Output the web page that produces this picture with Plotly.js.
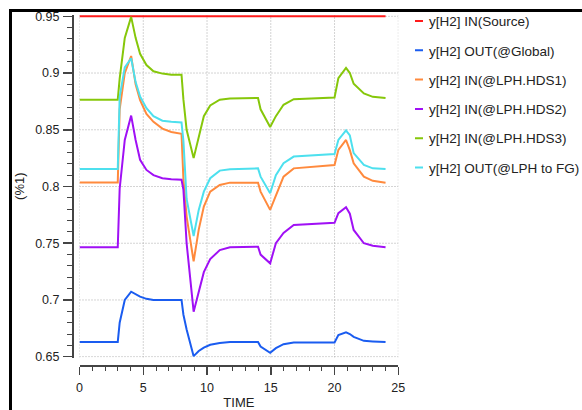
<!DOCTYPE html>
<html>
<head>
<meta charset="utf-8">
<script src="https://cdn.plot.ly/plotly-3.0.1.min.js"></script>
<style>html,body{margin:0;padding:0;background:#fff;}#chart{width:582px;height:410px;}</style>
</head>
<body>
<div id="chart"></div>
<script>
// Time axis (shared sample points)
const time = [0, 3, 3.15, 3.55, 4.05, 4.4, 4.75, 5.25, 5.8, 6.5, 7.2, 8.0, 8.15, 8.4, 8.95, 9.35, 9.75, 10.25, 11.0, 11.8, 14.0, 14.2, 14.95, 15.4, 16.0, 16.8, 20.0, 20.3, 20.9, 21.2, 21.5, 22.3, 23.0, 24.0];

// Series names
const seriesNames = ["y[H2] IN(Source)", "y[H2] OUT(@Global)", "y[H2] IN(@LPH.HDS1)", "y[H2] IN(@LPH.HDS2)", "y[H2] IN(@LPH.HDS3)", "y[H2] OUT(@LPH to FG)"];

const inSource = [0.95, 0.95, 0.95, 0.95, 0.95, 0.95, 0.95, 0.95, 0.95, 0.95, 0.95, 0.95, 0.95, 0.95, 0.95, 0.95, 0.95, 0.95, 0.95, 0.95, 0.95, 0.95, 0.95, 0.95, 0.95, 0.95, 0.95, 0.95, 0.95, 0.95, 0.95, 0.95, 0.95, 0.95];

const outGlobal = [0.663, 0.663, 0.680, 0.700, 0.7073, 0.705, 0.703, 0.701, 0.700, 0.700, 0.700, 0.700, 0.687, 0.674, 0.6505, 0.655, 0.658, 0.6605, 0.662, 0.663, 0.663, 0.659, 0.6535, 0.6575, 0.661, 0.6625, 0.6625, 0.669, 0.6715, 0.670, 0.6675, 0.664, 0.6635, 0.663];

const inHDS1 = [0.8035, 0.8035, 0.868, 0.900, 0.915, 0.890, 0.876, 0.864, 0.857, 0.851, 0.848, 0.8465, 0.806, 0.7735, 0.734, 0.762, 0.7823, 0.7955, 0.8014, 0.8034, 0.8034, 0.7955, 0.7794, 0.792, 0.8087, 0.816, 0.819, 0.8323, 0.841, 0.832, 0.8205, 0.8087, 0.805, 0.8034];

const inHDS2 = [0.7465, 0.7465, 0.798, 0.841, 0.8625, 0.841, 0.8235, 0.8146, 0.810, 0.8073, 0.8065, 0.806, 0.797, 0.750, 0.6897, 0.7085, 0.7245, 0.736, 0.744, 0.7465, 0.747, 0.740, 0.7323, 0.750, 0.759, 0.766, 0.768, 0.7765, 0.7817, 0.776, 0.7617, 0.750, 0.7478, 0.7465];

const inHDS3 = [0.8765, 0.8765, 0.895, 0.931, 0.9495, 0.931, 0.917, 0.907, 0.9015, 0.8995, 0.8985, 0.8985, 0.8765, 0.850, 0.825, 0.845, 0.862, 0.8715, 0.8765, 0.8775, 0.878, 0.868, 0.8525, 0.862, 0.872, 0.877, 0.8785, 0.8955, 0.9045, 0.900, 0.8905, 0.882, 0.879, 0.878];

const outLPHtoFG = [0.8155, 0.8155, 0.879, 0.905, 0.913, 0.892, 0.8794, 0.869, 0.862, 0.858, 0.857, 0.8565, 0.840, 0.789, 0.7564, 0.7794, 0.7955, 0.8073, 0.814, 0.8153, 0.816, 0.8087, 0.794, 0.810, 0.8205, 0.8264, 0.8287, 0.841, 0.8495, 0.845, 0.8294, 0.819, 0.816, 0.8155];

const xTicks = [0, 5, 10, 15, 20, 25];
const yTicks = [0.65, 0.7, 0.75, 0.8, 0.85, 0.9, 0.95];

const seriesValues = [inSource, outGlobal, inHDS1, inHDS2, inHDS3, outLPHtoFG];
const colors = ["#ff1a1a", "#1a5cf0", "#ff8a3d", "#a010f5", "#86c70a", "#4de0ee"];

const traces = seriesValues.map((vals, i) => ({
  x: time, y: vals, type: "scatter", mode: "lines",
  name: seriesNames[i], legendgroup: "g" + i,
  line: {color: colors[i], width: 2}
}));

// geometry helpers (paper: x 72..400, y 14..365)
const W = 582, H = 410, ml = 72, mr = 182, mt = 14, mb = 45;
const pw = W - ml - mr, ph = H - mt - mb;
const px = v => (v - ml) / pw;
const py = v => (H - mb - v) / ph;

const xRange = [0, 25];
const yRange = [0.6493, 0.95123];

const gridCol = "#a8a8a8";
const axCol = "#444";
const txtCol = "#222";

// dotted grid lines, placed in data coordinates at the tick values
const gridShapes = [
  ...xTicks.map(t => ({type: "line", layer: "below", xref: "x", yref: "y", x0: t, x1: t, y0: yRange[0], y1: yRange[1],
                      line: {color: gridCol, width: 1, dash: "1px,2px"}})),
  ...yTicks.map(v => ({type: "line", layer: "below", xref: "x", yref: "y", x0: xRange[0], x1: xRange[1], y0: v, y1: v,
                      line: {color: gridCol, width: 1, dash: "1px,2px"}}))
];

const layout = {
  width: W, height: H,
  margin: {l: ml, r: mr, t: mt, b: mb, pad: 0, autoexpand: false},
  paper_bgcolor: "#ffffff", plot_bgcolor: "#ffffff",
  font: {family: "Liberation Sans, Arial, sans-serif", size: 12.5, color: txtCol},
  showlegend: true,
  xaxis: {
    domain: [px(79.5), px(398.3)], range: xRange, anchor: "free", position: 0, automargin: false,
    tickmode: "array", tickvals: xTicks, ticks: "outside", ticklen: 8, tickwidth: 1.5, tickcolor: axCol,
    ticklabelstandoff: 2,
    showline: true, linecolor: axCol, linewidth: 1.5, showgrid: false, zeroline: false,
    minor: {dtick: 1, ticks: "outside", ticklen: 4, tickcolor: axCol, tickwidth: 1, showgrid: false},
    title: {text: "TIME", font: {size: 13, color: txtCol}, standoff: 8}
  },
  yaxis: {
    domain: [py(357.5), py(14.9)], range: yRange, anchor: "free", position: 0, automargin: false,
    tickmode: "array", tickvals: yTicks, ticks: "outside", ticklen: 9, tickwidth: 1.5, tickcolor: axCol,
    ticklabelstandoff: 1,
    showline: true, linecolor: axCol, linewidth: 1.5, showgrid: false, zeroline: false,
    minor: {dtick: 0.01, ticks: "outside", ticklen: 5, tickcolor: axCol, tickwidth: 1, showgrid: false},
    title: {text: "(%1)", font: {size: 13, color: txtCol}, standoff: 6}
  },
  legend: {
    x: px(389), xanchor: "left", y: py(5.7), yanchor: "top",
    font: {size: 13.5, color: txtCol}, bgcolor: "rgba(0,0,0,0)",
    tracegroupgap: 8.75, traceorder: "grouped"
  },
  shapes: [
    ...gridShapes,
    {type: "line", xref: "paper", yref: "paper", x0: px(9), x1: px(582), y0: py(10.5), y1: py(10.5), line: {color: "#000", width: 3}},
    {type: "line", xref: "paper", yref: "paper", x0: px(10.5), x1: px(10.5), y0: py(9), y1: py(410), line: {color: "#000", width: 3}}
  ]
};

Plotly.newPlot("chart", traces, layout, {staticPlot: true}).then(gd => {
  // shorten legend line symbols to match the short dashes of the original
  gd.querySelectorAll(".legend .legendlines path").forEach(p => p.setAttribute("d", "M26,0h8"));
});
</script>
</body>
</html>
